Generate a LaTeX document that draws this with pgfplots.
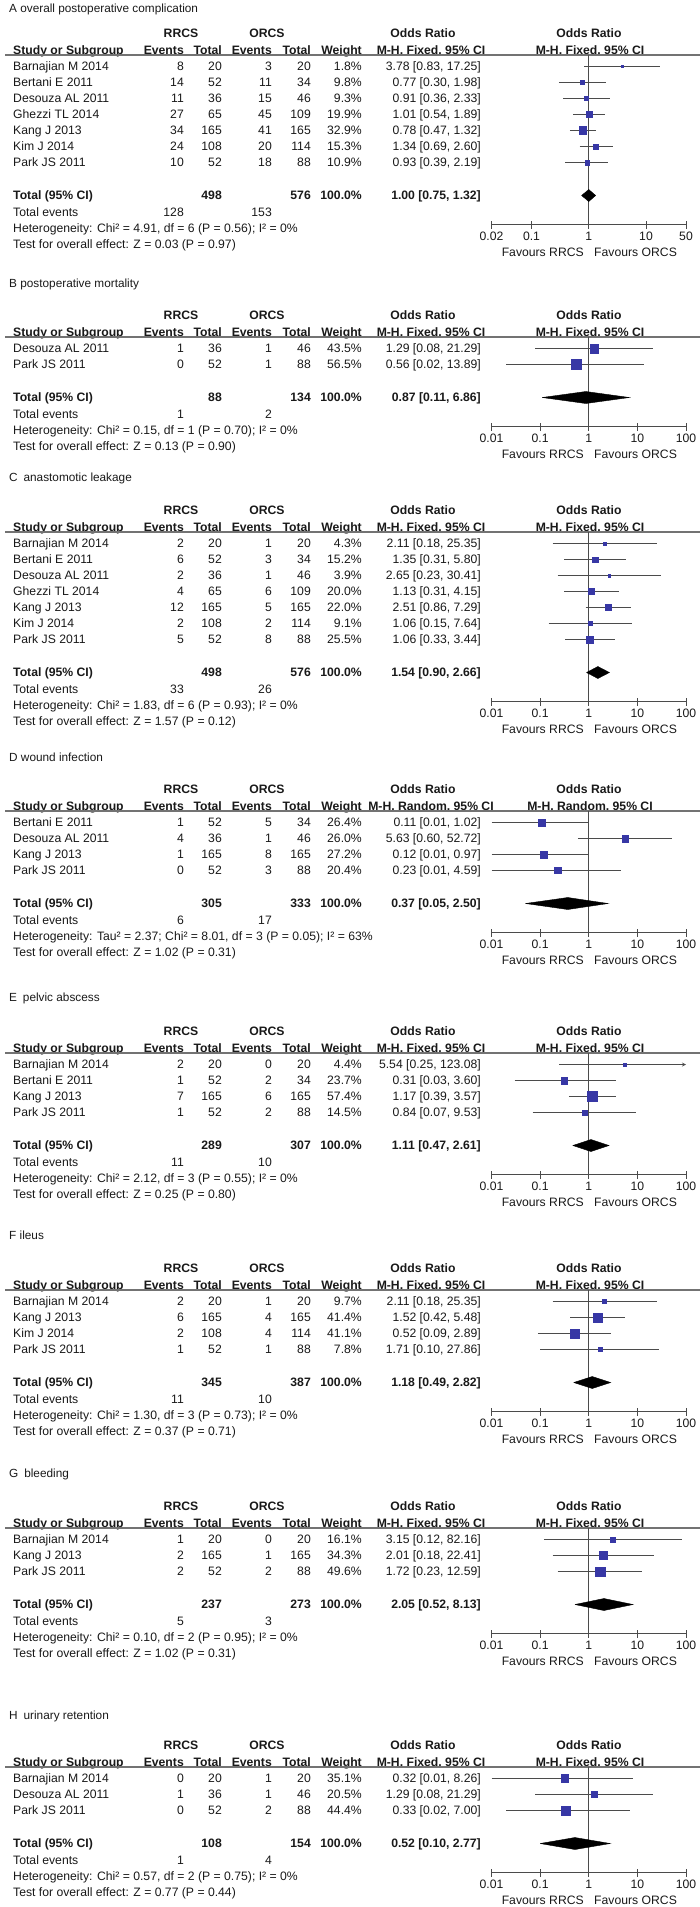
\documentclass[border=0pt]{standalone}
\usepackage{fontspec}
\setmainfont{Liberation Sans}
\usepackage{pgfplots}
\pgfplotsset{compat=1.18}
\definecolor{sqblue}{RGB}{55,55,165}
\definecolor{txt}{RGB}{25,25,25}
\definecolor{cigray}{RGB}{75,75,75}
\definecolor{hdr}{RGB}{115,115,115}

\newcommand{\tx}[4][base west]{\node[anchor=#1,inner sep=0pt,text=txt] at ({#2pt},{-(#3+4.3)*1pt}) {#4};}
\newcommand{\row}[8]{%
  \tx{13}{#1}{#2}\tx[base east]{184}{#1}{#3}\tx[base east]{222}{#1}{#4}%
  \tx[base east]{272}{#1}{#5}\tx[base east]{311}{#1}{#6}\tx[base east]{362}{#1}{#7}%
  \tx[base east]{481}{#1}{#8}}
\newcommand{\header}[4]{%
  \tx{9}{#1}{\fontsize{11.8}{13}\selectfont #2}
  \tx[base]{181}{#3}{\bfseries RRCS}
  \tx[base]{267}{#3}{\bfseries ORCS}
  \tx[base]{423}{#3}{\bfseries Odds Ratio}
  \tx[base]{589}{#3}{\bfseries Odds Ratio}
  \tx{13}{#3+17}{\bfseries Study or Subgroup}
  \tx[base east]{184}{#3+17}{\bfseries Events}
  \tx[base east]{222}{#3+17}{\bfseries Total}
  \tx[base east]{272}{#3+17}{\bfseries Events}
  \tx[base east]{311}{#3+17}{\bfseries Total}
  \tx[base east]{362}{#3+17}{\bfseries Weight}
  \tx[base]{431}{#3+17}{\bfseries M-H, #4, 95\% CI}
  \tx[base]{590}{#3+17}{\bfseries M-H, #4, 95\% CI}
  \draw[hdr, line width=1.3pt] (5pt,{-(#3+22)*1pt}) -- (700pt,{-(#3+22)*1pt});}
\newcommand{\footer}[9]{%
  \tx{13}{#1}{\bfseries Total (95\% CI)}
  \tx[base east]{222}{#1}{\bfseries #2}
  \tx[base east]{311}{#1}{\bfseries #3}
  \tx[base east]{362}{#1}{\bfseries 100.0\%}
  \tx[base east]{481}{#1}{\bfseries #4}
  \tx{13}{#1+17}{Total events}
  \tx[base east]{184}{#1+17}{#5}
  \tx[base east]{272}{#1+17}{#6}
  \tx{13}{#1+33}{#7}
  \tx{13}{#1+49}{#8}
  \tx[base east]{584}{#9+28}{Favours RRCS}
  \tx[base west]{594}{#9+28}{Favours ORCS}}
\newcommand{\study}[5]{%
  \addplot[color=cigray, line width=0.8pt] coordinates {(#2,-#1) (#4,-#1)};
  \addplot[only marks, mark=square*, draw=sqblue, fill=sqblue, mark size={0.67*sqrt(#5)}] coordinates {(#3,-#1)};}

\begin{document}
\begin{tikzpicture}[font=\fontsize{12.2}{14}\selectfont]
\useasboundingbox (0,0) rectangle (700pt,-1907pt);

% ---------------- A
\header{8.5}{A overall postoperative complication}{33}{Fixed}
\row{66.5}{Barnajian M 2014}{8}{20}{3}{20}{1.8\%}{3.78 [0.83, 17.25]}
\row{82.5}{Bertani E 2011}{14}{52}{11}{34}{9.8\%}{0.77 [0.30, 1.98]}
\row{98.5}{Desouza AL 2011}{11}{36}{15}{46}{9.3\%}{0.91 [0.36, 2.33]}
\row{114.5}{Ghezzi TL 2014}{27}{65}{45}{109}{19.9\%}{1.01 [0.54, 1.89]}
\row{130.5}{Kang J 2013}{34}{165}{41}{165}{32.9\%}{0.78 [0.47, 1.32]}
\row{146.5}{Kim J 2014}{24}{108}{20}{114}{15.3\%}{1.34 [0.69, 2.60]}
\row{162.5}{Park JS 2011}{10}{52}{18}{88}{10.9\%}{0.93 [0.39, 2.19]}
\footer{195.5}{498}{576}{1.00 [0.75, 1.32]}{128}{153}{Heterogeneity: Chi² = 4.91, df = 6 (P = 0.56); I² = 0\%}{Test for overall effect: Z = 0.03 (P = 0.97)}{224.5}
\begin{axis}[xmode=log, scale only axis, width=194.5pt, clip=false, anchor=south west,
  axis y line=none, axis x line*=bottom, x axis line style={draw=cigray, line width=0.8pt},
  tick align=center, major tick length=8pt, tick style={draw=cigray, line width=0.8pt},
  xminorticks=false, enlargelimits=false,
  xticklabel style={anchor=base, inner sep=0pt, yshift=-11.5pt, text=txt},
  at={(491.5pt,-224.5pt)}, height=169.5pt, ymin=-224.5, ymax=-55,
  xmin=0.02, xmax=50, xtick={0.02,0.1,1,10,50}, xticklabels={0.02,0.1,1,10,50}]
\addplot[color=cigray, line width=0.8pt] coordinates {(1,-55) (1,-224.5)};
\study{66.5}{0.83}{3.78}{17.25}{1.8}
\study{82.5}{0.30}{0.77}{1.98}{9.8}
\study{98.5}{0.36}{0.91}{2.33}{9.3}
\study{114.5}{0.54}{1.01}{1.89}{19.9}
\study{130.5}{0.47}{0.78}{1.32}{32.9}
\study{146.5}{0.69}{1.34}{2.60}{15.3}
\study{162.5}{0.39}{0.93}{2.19}{10.9}
\addplot[fill=black, draw=black] coordinates {(0.75,-195.5) (1.00,-189.5) (1.32,-195.5) (1.00,-201.5) (0.75,-195.5)};
\end{axis}

% ---------------- B
\header{283}{B postoperative mortality}{315}{Fixed}
\row{348.5}{Desouza AL 2011}{1}{36}{1}{46}{43.5\%}{1.29 [0.08, 21.29]}
\row{364.5}{Park JS 2011}{0}{52}{1}{88}{56.5\%}{0.56 [0.02, 13.89]}
\footer{397.5}{88}{134}{0.87 [0.11, 6.86]}{1}{2}{Heterogeneity: Chi² = 0.15, df = 1 (P = 0.70); I² = 0\%}{Test for overall effect: Z = 0.13 (P = 0.90)}{426.5}
\begin{axis}[xmode=log, scale only axis, width=194.5pt, clip=false, anchor=south west,
  axis y line=none, axis x line*=bottom, x axis line style={draw=cigray, line width=0.8pt},
  tick align=center, major tick length=8pt, tick style={draw=cigray, line width=0.8pt},
  xminorticks=false, enlargelimits=false,
  xticklabel style={anchor=base, inner sep=0pt, yshift=-11.5pt, text=txt},
  xmin=0.01, xmax=100, xtick={0.01,0.1,1,10,100}, xticklabels={0.01,0.1,1,10,100},
  at={(491.5pt,-426.5pt)}, height=89.5pt, ymin=-426.5, ymax=-337]
\addplot[color=cigray, line width=0.8pt] coordinates {(1,-337) (1,-426.5)};
\study{348.5}{0.08}{1.29}{21.29}{43.5}
\study{364.5}{0.02}{0.56}{13.89}{56.5}
\addplot[fill=black, draw=black] coordinates {(0.11,-397.5) (0.87,-391.5) (6.86,-397.5) (0.87,-403.5) (0.11,-397.5)};
\end{axis}

% ---------------- C
\header{477}{C\hspace{0.5em}anastomotic leakage}{510}{Fixed}
\row{543.5}{Barnajian M 2014}{2}{20}{1}{20}{4.3\%}{2.11 [0.18, 25.35]}
\row{559.5}{Bertani E 2011}{6}{52}{3}{34}{15.2\%}{1.35 [0.31, 5.80]}
\row{575.5}{Desouza AL 2011}{2}{36}{1}{46}{3.9\%}{2.65 [0.23, 30.41]}
\row{591.5}{Ghezzi TL 2014}{4}{65}{6}{109}{20.0\%}{1.13 [0.31, 4.15]}
\row{607.5}{Kang J 2013}{12}{165}{5}{165}{22.0\%}{2.51 [0.86, 7.29]}
\row{623.5}{Kim J 2014}{2}{108}{2}{114}{9.1\%}{1.06 [0.15, 7.64]}
\row{639.5}{Park JS 2011}{5}{52}{8}{88}{25.5\%}{1.06 [0.33, 3.44]}
\footer{672.5}{498}{576}{1.54 [0.90, 2.66]}{33}{26}{Heterogeneity: Chi² = 1.83, df = 6 (P = 0.93); I² = 0\%}{Test for overall effect: Z = 1.57 (P = 0.12)}{701.5}
\begin{axis}[xmode=log, scale only axis, width=194.5pt, clip=false, anchor=south west,
  axis y line=none, axis x line*=bottom, x axis line style={draw=cigray, line width=0.8pt},
  tick align=center, major tick length=8pt, tick style={draw=cigray, line width=0.8pt},
  xminorticks=false, enlargelimits=false,
  xticklabel style={anchor=base, inner sep=0pt, yshift=-11.5pt, text=txt},
  xmin=0.01, xmax=100, xtick={0.01,0.1,1,10,100}, xticklabels={0.01,0.1,1,10,100},
  at={(491.5pt,-701.5pt)}, height=169.5pt, ymin=-701.5, ymax=-532]
\addplot[color=cigray, line width=0.8pt] coordinates {(1,-532) (1,-701.5)};
\study{543.5}{0.18}{2.11}{25.35}{4.3}
\study{559.5}{0.31}{1.35}{5.80}{15.2}
\study{575.5}{0.23}{2.65}{30.41}{3.9}
\study{591.5}{0.31}{1.13}{4.15}{20.0}
\study{607.5}{0.86}{2.51}{7.29}{22.0}
\study{623.5}{0.15}{1.06}{7.64}{9.1}
\study{639.5}{0.33}{1.06}{3.44}{25.5}
\addplot[fill=black, draw=black] coordinates {(0.90,-672.5) (1.54,-666.5) (2.66,-672.5) (1.54,-678.5) (0.90,-672.5)};
\end{axis}

% ---------------- D
\header{757}{D wound infection}{789}{Random}
\row{822.5}{Bertani E 2011}{1}{52}{5}{34}{26.4\%}{0.11 [0.01, 1.02]}
\row{838.5}{Desouza AL 2011}{4}{36}{1}{46}{26.0\%}{5.63 [0.60, 52.72]}
\row{854.5}{Kang J 2013}{1}{165}{8}{165}{27.2\%}{0.12 [0.01, 0.97]}
\row{870.5}{Park JS 2011}{0}{52}{3}{88}{20.4\%}{0.23 [0.01, 4.59]}
\footer{903.5}{305}{333}{0.37 [0.05, 2.50]}{6}{17}{Heterogeneity: Tau² = 2.37; Chi² = 8.01, df = 3 (P = 0.05); I² = 63\%}{Test for overall effect: Z = 1.02 (P = 0.31)}{932.5}
\begin{axis}[xmode=log, scale only axis, width=194.5pt, clip=false, anchor=south west,
  axis y line=none, axis x line*=bottom, x axis line style={draw=cigray, line width=0.8pt},
  tick align=center, major tick length=8pt, tick style={draw=cigray, line width=0.8pt},
  xminorticks=false, enlargelimits=false,
  xticklabel style={anchor=base, inner sep=0pt, yshift=-11.5pt, text=txt},
  xmin=0.01, xmax=100, xtick={0.01,0.1,1,10,100}, xticklabels={0.01,0.1,1,10,100},
  at={(491.5pt,-932.5pt)}, height=121.5pt, ymin=-932.5, ymax=-811]
\addplot[color=cigray, line width=0.8pt] coordinates {(1,-811) (1,-932.5)};
\study{822.5}{0.01}{0.11}{1.02}{26.4}
\study{838.5}{0.60}{5.63}{52.72}{26.0}
\study{854.5}{0.01}{0.12}{0.97}{27.2}
\study{870.5}{0.01}{0.23}{4.59}{20.4}
\addplot[fill=black, draw=black] coordinates {(0.05,-903.5) (0.37,-897.5) (2.50,-903.5) (0.37,-909.5) (0.05,-903.5)};
\end{axis}

% ---------------- E
\header{997}{E\hspace{0.5em}pelvic abscess}{1031}{Fixed}
\row{1064.5}{Barnajian M 2014}{2}{20}{0}{20}{4.4\%}{5.54 [0.25, 123.08]}
\row{1080.5}{Bertani E 2011}{1}{52}{2}{34}{23.7\%}{0.31 [0.03, 3.60]}
\row{1096.5}{Kang J 2013}{7}{165}{6}{165}{57.4\%}{1.17 [0.39, 3.57]}
\row{1112.5}{Park JS 2011}{1}{52}{2}{88}{14.5\%}{0.84 [0.07, 9.53]}
\footer{1145.5}{289}{307}{1.11 [0.47, 2.61]}{11}{10}{Heterogeneity: Chi² = 2.12, df = 3 (P = 0.55); I² = 0\%}{Test for overall effect: Z = 0.25 (P = 0.80)}{1174.5}
\begin{axis}[xmode=log, scale only axis, width=194.5pt, clip=false, anchor=south west,
  axis y line=none, axis x line*=bottom, x axis line style={draw=cigray, line width=0.8pt},
  tick align=center, major tick length=8pt, tick style={draw=cigray, line width=0.8pt},
  xminorticks=false, enlargelimits=false,
  xticklabel style={anchor=base, inner sep=0pt, yshift=-11.5pt, text=txt},
  xmin=0.01, xmax=100, xtick={0.01,0.1,1,10,100}, xticklabels={0.01,0.1,1,10,100},
  at={(491.5pt,-1174.5pt)}, height=121.5pt, ymin=-1174.5, ymax=-1053]
\addplot[color=cigray, line width=0.8pt] coordinates {(1,-1053) (1,-1174.5)};
\addplot[color=cigray, line width=0.8pt, -stealth] coordinates {(0.25,-1064.5) (100,-1064.5)};
\addplot[only marks, mark=square*, draw=sqblue, fill=sqblue, mark size={0.67*sqrt(4.4)}] coordinates {(5.54,-1064.5)};
\study{1080.5}{0.03}{0.31}{3.60}{23.7}
\study{1096.5}{0.39}{1.17}{3.57}{57.4}
\study{1112.5}{0.07}{0.84}{9.53}{14.5}
\addplot[fill=black, draw=black] coordinates {(0.47,-1145.5) (1.11,-1139.5) (2.61,-1145.5) (1.11,-1151.5) (0.47,-1145.5)};
\end{axis}

% ---------------- F
\header{1235}{F ileus}{1268}{Fixed}
\row{1301.5}{Barnajian M 2014}{2}{20}{1}{20}{9.7\%}{2.11 [0.18, 25.35]}
\row{1317.5}{Kang J 2013}{6}{165}{4}{165}{41.4\%}{1.52 [0.42, 5.48]}
\row{1333.5}{Kim J 2014}{2}{108}{4}{114}{41.1\%}{0.52 [0.09, 2.89]}
\row{1349.5}{Park JS 2011}{1}{52}{1}{88}{7.8\%}{1.71 [0.10, 27.86]}
\footer{1382.5}{345}{387}{1.18 [0.49, 2.82]}{11}{10}{Heterogeneity: Chi² = 1.30, df = 3 (P = 0.73); I² = 0\%}{Test for overall effect: Z = 0.37 (P = 0.71)}{1411.5}
\begin{axis}[xmode=log, scale only axis, width=194.5pt, clip=false, anchor=south west,
  axis y line=none, axis x line*=bottom, x axis line style={draw=cigray, line width=0.8pt},
  tick align=center, major tick length=8pt, tick style={draw=cigray, line width=0.8pt},
  xminorticks=false, enlargelimits=false,
  xticklabel style={anchor=base, inner sep=0pt, yshift=-11.5pt, text=txt},
  xmin=0.01, xmax=100, xtick={0.01,0.1,1,10,100}, xticklabels={0.01,0.1,1,10,100},
  at={(491.5pt,-1411.5pt)}, height=121.5pt, ymin=-1411.5, ymax=-1290]
\addplot[color=cigray, line width=0.8pt] coordinates {(1,-1290) (1,-1411.5)};
\study{1301.5}{0.18}{2.11}{25.35}{9.7}
\study{1317.5}{0.42}{1.52}{5.48}{41.4}
\study{1333.5}{0.09}{0.52}{2.89}{41.1}
\study{1349.5}{0.10}{1.71}{27.86}{7.8}
\addplot[fill=black, draw=black] coordinates {(0.49,-1382.5) (1.18,-1376.5) (2.82,-1382.5) (1.18,-1388.5) (0.49,-1382.5)};
\end{axis}

% ---------------- G
\header{1473}{G\hspace{0.5em}bleeding}{1506}{Fixed}
\row{1539.5}{Barnajian M 2014}{1}{20}{0}{20}{16.1\%}{3.15 [0.12, 82.16]}
\row{1555.5}{Kang J 2013}{2}{165}{1}{165}{34.3\%}{2.01 [0.18, 22.41]}
\row{1571.5}{Park JS 2011}{2}{52}{2}{88}{49.6\%}{1.72 [0.23, 12.59]}
\footer{1604.5}{237}{273}{2.05 [0.52, 8.13]}{5}{3}{Heterogeneity: Chi² = 0.10, df = 2 (P = 0.95); I² = 0\%}{Test for overall effect: Z = 1.02 (P = 0.31)}{1633.5}
\begin{axis}[xmode=log, scale only axis, width=194.5pt, clip=false, anchor=south west,
  axis y line=none, axis x line*=bottom, x axis line style={draw=cigray, line width=0.8pt},
  tick align=center, major tick length=8pt, tick style={draw=cigray, line width=0.8pt},
  xminorticks=false, enlargelimits=false,
  xticklabel style={anchor=base, inner sep=0pt, yshift=-11.5pt, text=txt},
  xmin=0.01, xmax=100, xtick={0.01,0.1,1,10,100}, xticklabels={0.01,0.1,1,10,100},
  at={(491.5pt,-1633.5pt)}, height=105.5pt, ymin=-1633.5, ymax=-1528]
\addplot[color=cigray, line width=0.8pt] coordinates {(1,-1528) (1,-1633.5)};
\study{1539.5}{0.12}{3.15}{82.16}{16.1}
\study{1555.5}{0.18}{2.01}{22.41}{34.3}
\study{1571.5}{0.23}{1.72}{12.59}{49.6}
\addplot[fill=black, draw=black] coordinates {(0.52,-1604.5) (2.05,-1598.5) (8.13,-1604.5) (2.05,-1610.5) (0.52,-1604.5)};
\end{axis}

% ---------------- H
\header{1715}{H\hspace{0.5em}urinary retention}{1745}{Fixed}
\row{1778.5}{Barnajian M 2014}{0}{20}{1}{20}{35.1\%}{0.32 [0.01, 8.26]}
\row{1794.5}{Desouza AL 2011}{1}{36}{1}{46}{20.5\%}{1.29 [0.08, 21.29]}
\row{1810.5}{Park JS 2011}{0}{52}{2}{88}{44.4\%}{0.33 [0.02, 7.00]}
\footer{1843.5}{108}{154}{0.52 [0.10, 2.77]}{1}{4}{Heterogeneity: Chi² = 0.57, df = 2 (P = 0.75); I² = 0\%}{Test for overall effect: Z = 0.77 (P = 0.44)}{1872.5}
\begin{axis}[xmode=log, scale only axis, width=194.5pt, clip=false, anchor=south west,
  axis y line=none, axis x line*=bottom, x axis line style={draw=cigray, line width=0.8pt},
  tick align=center, major tick length=8pt, tick style={draw=cigray, line width=0.8pt},
  xminorticks=false, enlargelimits=false,
  xticklabel style={anchor=base, inner sep=0pt, yshift=-11.5pt, text=txt},
  xmin=0.01, xmax=100, xtick={0.01,0.1,1,10,100}, xticklabels={0.01,0.1,1,10,100},
  at={(491.5pt,-1872.5pt)}, height=105.5pt, ymin=-1872.5, ymax=-1767]
\addplot[color=cigray, line width=0.8pt] coordinates {(1,-1767) (1,-1872.5)};
\study{1778.5}{0.01}{0.32}{8.26}{35.1}
\study{1794.5}{0.08}{1.29}{21.29}{20.5}
\study{1810.5}{0.02}{0.33}{7.00}{44.4}
\addplot[fill=black, draw=black] coordinates {(0.10,-1843.5) (0.52,-1837.5) (2.77,-1843.5) (0.52,-1849.5) (0.10,-1843.5)};
\end{axis}

\end{tikzpicture}
\end{document}
